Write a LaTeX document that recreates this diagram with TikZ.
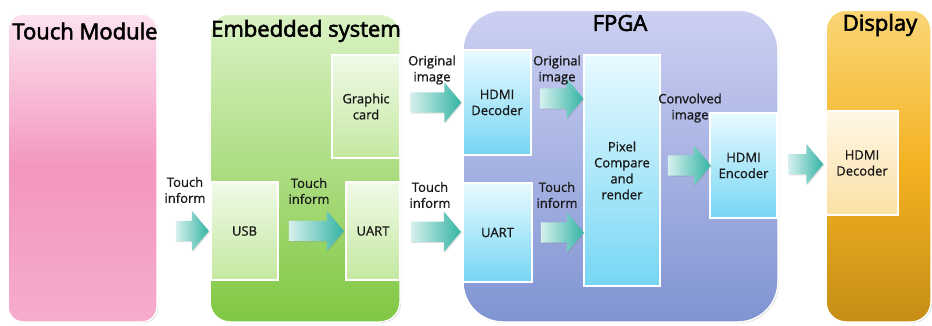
\documentclass[tikz,border=0pt]{standalone}
\usepackage{fontspec}
\setmainfont{Open Sans}
\newfontfamily\titlefont{Open Sans}[FakeBold=2.5]
\newfontfamily\labelfont{Open Sans}[FakeBold=1]
\usetikzlibrary{shapes.arrows, shadows}
\definecolor{pinktop}{RGB}{252,226,238}
\definecolor{pinkmid}{RGB}{243,150,192}
\definecolor{pinkbot}{RGB}{246,172,206}
\definecolor{greentop}{RGB}{218,242,196}
\definecolor{greenbot}{RGB}{128,200,66}
\definecolor{gboxtop}{RGB}{240,250,232}
\definecolor{gboxbot}{RGB}{196,232,160}
\definecolor{fpgatop}{RGB}{204,208,242}
\definecolor{fpgabot}{RGB}{128,148,210}
\definecolor{cyantop}{RGB}{232,250,255}
\definecolor{cyanbot}{RGB}{118,214,244}
\definecolor{disptop}{RGB}{250,214,118}
\definecolor{dispmid}{RGB}{244,178,34}
\definecolor{dispbot}{RGB}{198,142,22}
\definecolor{dboxtop}{RGB}{255,247,230}
\definecolor{dboxbot}{RGB}{250,224,165}
\definecolor{arrleft}{RGB}{214,240,238}
\definecolor{arrright}{RGB}{52,180,164}
\tikzset{
panel/.style={rounded corners=#1, draw=white, line width=1.5pt, inner sep=0pt,
  drop shadow={shadow xshift=1pt, shadow yshift=-1pt, opacity=.35}},
title/.style={font=\fontsize{22}{26}\titlefont, text=black},
unit/.style={draw=white, line width=1.2pt, inner sep=0pt, align=center,
  font=\fontsize{13}{16}\labelfont, text=black!90,
  drop shadow={shadow xshift=1.2pt, shadow yshift=-1.2pt, opacity=.25}},
greenunit/.style={unit, top color=gboxtop, bottom color=gboxbot},
cyanunit/.style={unit, top color=cyantop, bottom color=cyanbot},
label/.style={align=center, inner sep=0pt, font=\fontsize{13}{16}\labelfont, text=black!90},
barrow/.style={single arrow, draw=none, inner sep=0pt, inner ysep=10pt,
  single arrow head extend=10pt, single arrow tip angle=100,
  left color=arrleft, right color=arrright,
  drop shadow={shadow xshift=1pt, shadow yshift=-1pt, opacity=.25}}
}
\begin{document}
\begin{tikzpicture}[x=1pt, y=-1pt]
\useasboundingbox[fill=white] (0,0) rectangle (932,325);
\node[panel=15pt, minimum width=149pt, minimum height=308pt, top color=pinktop, bottom color=pinkbot, middle color=pinkmid] (touch) at (82.5,168) {};
\node[panel=20pt, minimum width=190pt, minimum height=308pt, top color=greentop, bottom color=greenbot] (embed) at (305,168) {};
\node[panel=40pt, minimum width=315pt, minimum height=312pt, top color=fpgatop, bottom color=fpgabot] (fpga) at (620.5,166) {};
\node[panel=20pt, minimum width=105pt, minimum height=312pt, top color=disptop, bottom color=dispbot, middle color=dispmid] (display) at (878.5,166) {};
\node[title] (touchtitle) at (85,31) {Touch Module};
\node[title] (embedtitle) at (306,31) {Embedded system};
\node[title] (fpgatitle) at (620,23) {FPGA};
\node[title] (disptitle) at (880,25) {Display};
\node[greenunit, minimum width=68pt, minimum height=103pt] (gcard) at (366,106.5) {Graphic\\card};
\node[greenunit, minimum width=67pt, minimum height=98pt] (usb) at (244.5,231) {USB};
\node[greenunit, minimum width=54pt, minimum height=98pt] (euart) at (373,231) {UART};
\node[cyanunit, minimum width=68pt, minimum height=105pt] (hdec) at (497,102.5) {HDMI\\Decoder};
\node[cyanunit, minimum width=69pt, minimum height=99pt] (fuart) at (497.5,232.5) {UART};
\node[cyanunit, minimum width=76pt, minimum height=231pt] (pixel) at (622,170.5) {Pixel\\Compare\\and\\render};
\node[cyanunit, minimum width=67pt, minimum height=105pt] (henc) at (743.5,165.5) {HDMI\\Encoder};
\node[unit, top color=dboxtop, bottom color=dboxbot, minimum width=72pt, minimum height=104pt] (ddec) at (862,163) {HDMI\\Decoder};
\path (touch.east |- usb.west) -- node[barrow, minimum height=33pt, xshift=4pt] (a1) {} (usb.west);
\path (usb.east) -- node[barrow, minimum height=55pt] (a2) {} (euart.west);
\path (gcard.east) -- node[barrow, minimum height=51pt, yshift=2pt] (a3) {} (hdec.west);
\path (euart.east) -- node[barrow, minimum height=50pt] (a4) {} (fuart.west);
\path (hdec.east) -- node[barrow, minimum height=43pt, yshift=4pt] (a5) {} (pixel.west |- hdec.east);
\path (fuart.east) -- node[barrow, minimum height=43pt] (a6) {} (pixel.west |- fuart.east);
\path (pixel.east |- henc.west) -- node[barrow, minimum height=43pt] (a7) {} (henc.west);
\path (henc.east) -- node[barrow, minimum height=35pt] (a8) {} (ddec.west);
\node[label] (l1) at (185,190) {Touch\\inform};
\node[label] (l2) at (309,191) {Touch\\inform};
\node[label] (l3) at (432,70) {Original\\image};
\node[label] (l4) at (430,195) {Touch\\inform};
\node[label] (l5) at (557,70) {Original\\image};
\node[label] (l6) at (557,195) {Touch\\inform};
\node[label] (l7) at (690,108) {Convolved\\image};
\end{tikzpicture}
\end{document}
